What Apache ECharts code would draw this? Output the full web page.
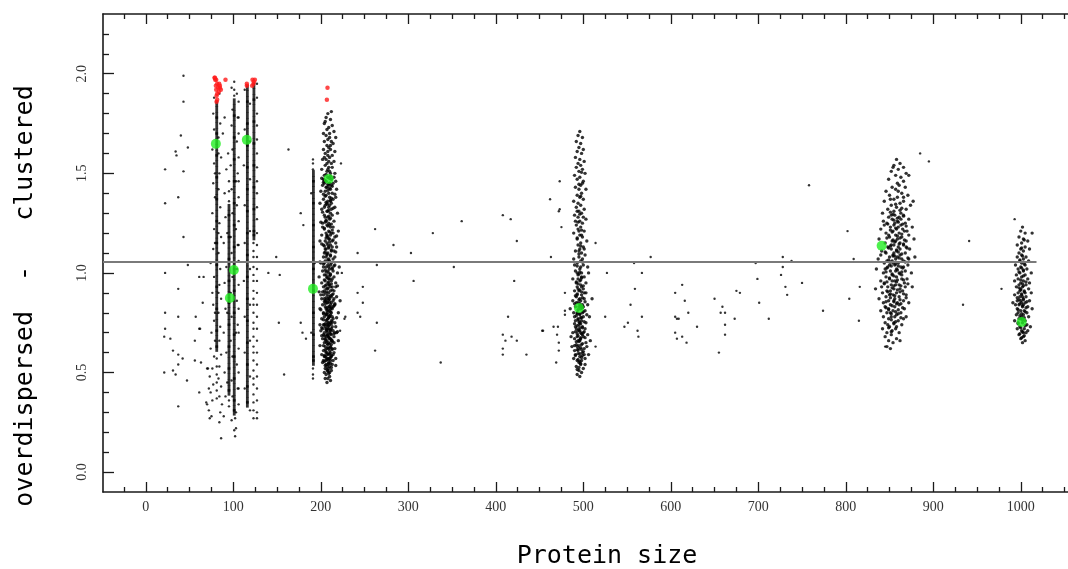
<!DOCTYPE html>
<html>
<head>
<meta charset="utf-8">
<script src="https://cdn.jsdelivr.net/npm/echarts@6/dist/echarts.min.js"></script>
<style>
html,body{margin:0;padding:0;background:#fff;}
#chart{width:1068px;height:569px;}
</style>
</head>
<body>
<div id="chart"></div>
<script>
// ---------- axis ticks ----------
const xTicks = [0,100,200,300,400,500,600,700,800,900,1000];
const xMinorTicks = [-25,25,50,75,125,150,175,225,250,275,325,350,375,425,450,475,525,550,575,625,650,675,725,750,775,825,850,875,925,950,975,1025,1050];
const yTicks = [0,0.5,1,1.5,2];
const yMinorTicks = [0.1,0.2,0.3,0.4,0.6,0.7,0.8,0.9,1.1,1.2,1.3,1.4,1.6,1.7,1.8,1.9,2.1,2.2];
const xName = "Protein size";
const yName = "overdispersed  -   clustered";

// ---------- reference line ----------
const refLineY = 1.055;
const refLineX = [-49, 1018];

// ---------- sparse points ----------
const outliers = [
[43,1.99],[43,1.86],[40,1.69],[34,1.61],[35,1.59],[48,1.63],[22,1.52],[43,1.51],[37,1.38],[22,1.35],[43,1.18],[48,1.04],[22,1.00],[61,0.98],[37,0.92],[65,0.85],[22,0.80],[37,0.78],[61,0.72],[22,0.72],[21,0.68],[28,0.67],[56,0.66],[31,0.61],[37,0.59],[42,0.57],[56,0.56],[37,0.54],[47,0.46],[31,0.51],[34,0.49],[21,0.50],[61,0.40],[37,0.33],
[63,0.55],[70,0.52],[71,0.52],[72,0.42],[69,0.35],[70,0.34],[73,0.27],[86,0.17],[66,0.98],[57,0.78],[62,0.72],
[140,1.00],[153,0.99],[163,1.62],[149,1.08],[158,0.49],[152,0.75],[177,1.30],[180,1.24],[177,0.75],[179,0.70],[183,0.67],
[228,0.78],[223,1.55],[262,1.22],[242,1.10],[283,1.14],[303,1.10],[328,1.20],[361,1.26],[408,1.29],[417,1.27],[424,1.16],[462,1.37],[473,1.46],[472,1.31],[475,1.23],[463,1.08],[264,1.04],[352,1.03],[224,1.00],[306,0.96],[421,0.96],[248,0.93],[242,0.90],[248,0.85],[242,0.80],[245,0.78],[227,0.77],[264,0.75],[222,0.71],[414,0.78],[408,0.69],[411,0.66],[418,0.68],[424,0.66],[408,0.62],[408,0.59],[435,0.59],[262,0.61],[337,0.55],[453,0.71],[466,0.73],[471,0.73],[470,0.69],[472,0.65],[472,0.61],[469,0.55],[479,0.90],[479,0.81],[479,0.79],[473,1.32],[454,0.71],
[514,1.15],[527,1.00],[525,0.78],[514,0.63],[558,1.05],[577,1.08],[567,1.00],[559,0.92],[554,0.84],[567,0.78],[551,0.75],[547,0.73],[562,0.71],[563,0.68],[605,0.90],[613,0.94],[616,0.86],[620,0.80],[605,0.78],[607,0.77],[609,0.77],[630,0.73],[605,0.70],[607,0.67],[613,0.68],[618,0.65],[650,0.87],[659,0.83],[657,0.80],[662,0.80],[662,0.74],[662,0.69],[655,0.60],[673,0.77],[675,0.91],[679,0.90],[697,1.05],[699,0.97],[701,0.85],[712,0.77],[726,0.99],[728,1.08],[728,1.03],[731,0.93],[733,0.89],[738,1.06],[750,0.95],[758,1.44],[774,0.81],[802,1.21],[804,0.87],
[809,1.07],[816,0.93],[815,0.76],[845,0.63],[885,1.60],[895,1.56],[941,1.16],[934,0.84],[978,0.92],[993,1.27]
];

// ---------- points scattered around the dense columns (x 72-130, 190) ----------
const nearStreak = [
[78,1.88],[77,1.80],[78,1.72],[76,1.62],[78,1.55],[77,1.45],[79,1.38],[76,1.30],[78,1.22],[77,1.12],[74,1.05],[78,0.98],[76,0.90],[77,0.84],[78,0.76],[75,0.70],[79,0.66],[74,0.62],[78,0.58],[76,0.52],[73,0.48],[77,0.44],[74,0.40],[76,0.36],[72,0.31],[75,0.28],[79,1.50],[79,1.15],[79,0.80],
[81,0.57],[81,0.53],[81,0.49],[81,0.45],[81,0.41],[81,0.37],
[84,1.90],[85,1.75],[83,1.68],[86,1.58],[84,1.50],[83,1.42],[85,1.33],[84,1.25],[86,1.18],[83,1.10],[85,1.02],[84,0.94],[86,0.87],[83,0.80],[85,0.73],[84,0.66],[86,0.59],[84,0.53],[83,0.47],[86,0.43],[84,0.38],[87,0.34],[85,0.30],[84,0.25],[83,1.60],[83,1.20],[83,0.90],
[90,1.78],[88,1.70],[92,1.52],[90,1.40],[91,1.28],[89,1.15],[92,1.03],[90,0.95],[91,0.82],[89,0.70],[92,0.60],[90,0.50],[91,0.38],[89,0.28],
[95,1.36],[95,1.41],[95,1.46],[95,0.36],[95,0.33],[94,1.60],[93,1.20],[93,0.80],[93,0.45],
[101,1.96],[101,1.92],[101,1.89],[102,0.27],[101,0.21],[102,0.18],
[104,1.90],[106,1.86],[99,1.82],[105,1.78],[98,1.74],[106,1.70],[104,1.66],[99,1.62],[106,1.58],[97,1.54],[105,1.50],[103,1.46],[98,1.42],[106,1.38],[104,1.34],[99,1.30],[106,1.26],[103,1.22],[97,1.18],[105,1.14],[98,1.10],[106,1.06],[104,1.02],[99,0.98],[106,0.94],[97,0.90],[104,0.86],[106,0.82],[98,0.78],[105,0.74],[103,0.70],[97,0.66],[106,0.62],[99,0.58],[104,0.54],[106,0.50],[98,0.46],[105,0.42],[99,0.38],[106,0.34],[103,0.30],[98,0.26],[103,0.22],[98,1.93],[106,1.78],[106,1.46],[106,1.14],[106,0.70],[106,0.42],
[113,1.92],[119,1.85],[127,1.80],[113,1.72],[119,1.66],[127,1.60],[112,1.54],[119,1.47],[127,1.40],[113,1.34],[127,1.27],[119,1.21],[113,1.15],[127,1.08],[119,1.02],[112,0.96],[127,0.90],[119,0.84],[113,0.78],[127,0.72],[119,0.66],[113,0.60],[127,0.54],[119,0.48],[113,0.42],[127,0.36],[119,0.31],[127,0.27],
[127,1.95],[127,1.88],[127,1.74],[127,1.67],[127,1.53],[127,1.46],[127,1.33],[127,1.20],[127,1.14],[127,1.02],[127,0.96],[127,0.84],[127,0.78],[127,0.66],[127,0.60],[127,0.48],[127,0.42],[127,0.30],
[123,1.15],[123,1.11],[123,1.08],[123,1.03],[123,0.99],[123,0.96],[123,0.91],[123,0.87],[123,0.84],[123,0.80],[123,0.75],[123,0.72],[123,0.68],[123,0.63],[123,0.60],[123,0.56],[123,0.51],[123,0.47],[123,0.44],[123,0.39],[123,0.35],[123,0.31],[123,0.27],
[191,1.57],[191,1.55],[191,1.52],[191,0.52],[191,0.49],[191,0.47],[189,1.40],[193,1.05],[189,0.70]
];

// ---------- dense vertical columns (many proteins of identical size) ----------
const streakX = [81, 95, 101, 116, 123.5, 191.5];
const streakY = [
[1.85,1.82,1.79,1.77,1.74,1.71,1.69,1.66,1.63,1.60,1.58,1.55,1.52,1.49,1.47,1.44,1.41,1.38,1.36,1.33,1.30,1.27,1.25,1.22,1.19,1.16,1.14,1.11,1.08,1.05,1.03,1.00,0.97,0.94,0.92,0.89,0.86,0.83,0.81,0.78,0.75,0.72,0.70,0.67,0.64,0.62],
[1.33,1.30,1.28,1.25,1.22,1.19,1.17,1.14,1.11,1.08,1.06,1.03,1.00,0.97,0.95,0.92,0.89,0.86,0.84,0.81,0.78,0.75,0.73,0.70,0.67,0.64,0.62,0.59,0.56,0.53,0.51,0.48,0.45,0.42,0.40],
[1.86,1.83,1.80,1.78,1.75,1.72,1.69,1.67,1.64,1.61,1.58,1.56,1.53,1.50,1.47,1.45,1.42,1.39,1.36,1.34,1.31,1.28,1.25,1.23,1.20,1.17,1.14,1.12,1.09,1.06,1.03,1.01,0.98,0.95,0.92,0.90,0.87,0.84,0.81,0.79,0.76,0.73,0.70,0.68,0.65,0.62,0.59,0.57,0.54,0.51,0.48,0.46,0.43,0.40,0.37,0.35,0.32,0.30],
[1.93,1.90,1.87,1.85,1.82,1.79,1.76,1.74,1.71,1.68,1.65,1.63,1.60,1.57,1.54,1.52,1.49,1.46,1.43,1.41,1.38,1.35,1.32,1.30,1.27,1.24,1.21,1.19,1.16,1.13,1.10,1.08,1.05,1.02,0.99,0.97,0.94,0.91,0.88,0.86,0.83,0.80,0.77,0.75,0.72,0.69,0.66,0.64,0.61,0.58,0.55,0.53,0.50,0.47,0.44,0.42,0.39,0.36,0.34],
[1.94,1.91,1.88,1.86,1.83,1.80,1.77,1.75,1.72,1.69,1.66,1.64,1.61,1.58,1.55,1.53,1.50,1.47,1.44,1.42,1.39,1.36,1.33,1.31,1.28,1.25,1.22,1.20,1.18],
[1.50,1.47,1.45,1.42,1.39,1.36,1.34,1.31,1.28,1.25,1.23,1.20,1.17,1.14,1.12,1.09,1.06,1.03,1.01,0.98,0.95,0.92,0.90,0.87,0.84,0.81,0.79,0.76,0.73,0.70,0.68,0.65,0.62,0.59,0.57,0.55]
];

// ---------- dense clusters ----------
const cluster208 = [
[208,1.80],[206,1.78],[211,1.77],[204,1.75],[213,1.74],[209,1.73],[207,1.72],[215,1.71],[203,1.70],[210,1.70],[212,1.81],[205,1.76],
[206,1.69],[210,1.68],[208,1.67],[212,1.66],[204,1.66],[214,1.65],[207,1.64],[209,1.63],[211,1.62],[203,1.62],[216,1.61],[205,1.60],[208,1.59],[213,1.59],[210,1.58],[206,1.57],[202,1.57],[209,1.56],[212,1.55],[207,1.55],[215,1.56],[204,1.58],[211,1.64],[208,1.61],[217,1.68],
[205,1.54],[209,1.53],[213,1.53],[201,1.52],[207,1.51],[211,1.50],[216,1.50],[204,1.49],[208,1.48],[212,1.47],[206,1.46],[210,1.45],[214,1.45],[202,1.44],[207,1.43],[211,1.42],[218,1.42],[205,1.41],[209,1.40],[213,1.40],[203,1.47],[215,1.48],[208,1.52],[206,1.43],[212,1.44],[200,1.41],[217,1.46],[210,1.51],[204,1.45],[209,1.44],
[206,1.39],[210,1.38],[214,1.37],[203,1.37],[208,1.36],[212,1.35],[205,1.34],[209,1.33],[216,1.33],[201,1.32],[207,1.31],[211,1.30],[213,1.29],[204,1.29],[208,1.28],[210,1.27],[206,1.26],[215,1.26],[202,1.25],[209,1.25],[219,1.30],[211,1.36],[207,1.35],[205,1.28],[212,1.32],[199,1.35],[217,1.38],[208,1.31],[210,1.34],[204,1.33],
[207,1.24],[211,1.23],[214,1.23],[204,1.22],[209,1.21],[212,1.20],[206,1.20],[201,1.19],[208,1.18],[216,1.18],[210,1.17],[205,1.16],[213,1.16],[207,1.15],[211,1.14],[203,1.14],[209,1.13],[218,1.13],[206,1.12],[212,1.11],[208,1.10],[204,1.10],[215,1.11],[210,1.24],[220,1.21],[199,1.16],[207,1.19],[213,1.13],[209,1.17],[205,1.12],[211,1.19],[202,1.23],[217,1.15],[208,1.14],[214,1.20],
[207,1.09],[211,1.09],[203,1.08],[209,1.07],[214,1.07],[205,1.06],[212,1.05],[200,1.05],[208,1.04],[216,1.04],[206,1.03],[210,1.02],[213,1.02],[202,1.01],[209,1.00],[219,1.00],[204,0.99],[211,0.99],[207,0.98],[215,0.98],[209,0.97],[212,0.96],[205,0.96],[201,0.95],[217,0.95],[208,0.95],[210,1.06],[206,1.08],[214,1.01],[203,1.03],[211,1.04],[208,1.01],[221,1.03],[204,1.05],[213,0.97],[206,0.99],[209,1.03],[198,0.98],[216,1.08],[210,0.97],
[206,0.94],[210,0.94],[213,0.93],[203,0.93],[208,0.92],[211,0.91],[215,0.91],[205,0.90],[209,0.90],[200,0.89],[207,0.89],[212,0.88],[218,0.88],[204,0.87],[210,0.87],[206,0.86],[214,0.86],[208,0.85],[211,0.84],[202,0.84],[216,0.84],[209,0.83],[205,0.83],[213,0.82],[207,0.81],[210,0.81],[203,0.80],[220,0.80],[212,0.80],[208,0.80],[206,0.92],[211,0.93],[209,0.88],[204,0.91],[215,0.87],[207,0.85],[213,0.89],[201,0.87],[210,0.83],[206,0.82],[217,0.93],[208,0.87],[212,0.85],[199,0.82],[214,0.83],[205,0.86],[209,0.94],[222,0.86],[203,0.89],[211,0.82],
[207,0.79],[211,0.79],[204,0.78],[209,0.78],[214,0.77],[201,0.77],[206,0.76],[212,0.76],[208,0.75],[216,0.75],[203,0.74],[210,0.74],[205,0.73],[213,0.73],[209,0.72],[207,0.71],[200,0.71],[211,0.71],[218,0.70],[204,0.70],[208,0.69],[212,0.69],[206,0.68],[215,0.68],[210,0.67],[202,0.67],[207,0.66],[213,0.66],[209,0.65],[204,0.65],[220,0.66],[211,0.75],[206,0.72],[214,0.71],[208,0.77],[203,0.69],[210,0.70],[217,0.73],[205,0.67],[212,0.72],[209,0.68],[199,0.74],[207,0.74],[213,0.78],[215,0.65],[208,0.72],[210,0.78],[206,0.79],[204,0.74],[211,0.67],[216,0.70],[202,0.72],[209,0.75],[212,0.66],[207,0.69],
[208,0.64],[211,0.63],[205,0.63],[213,0.62],[207,0.62],[203,0.61],[210,0.61],[215,0.60],[206,0.60],[209,0.59],[212,0.58],[204,0.58],[208,0.57],[217,0.57],[206,0.56],[211,0.56],[202,0.55],[209,0.55],[213,0.54],[207,0.53],[210,0.53],[205,0.52],[212,0.51],[208,0.51],[204,0.50],[214,0.56],[209,0.62],[207,0.59],[211,0.60],[201,0.59],[210,0.57],[206,0.54],[216,0.62],[208,0.54],[203,0.56],[212,0.64],[209,0.52],[205,0.58],[210,0.50],[214,0.59],
[206,0.49],[210,0.48],[208,0.47],[207,0.45],[205,0.47],[211,0.46],
[206,1.495],[210,1.475],[203,1.455],[213,1.435],[208,1.415],[205,1.385],[211,1.365],[207,1.345],[214,1.325],[202,1.305],[209,1.285],[206,1.265],[212,1.245],[204,1.225],[210,1.205],[207,1.185],[214,1.165],[201,1.145],[209,1.125],[205,1.105],[211,1.085],[208,1.065],[203,1.045],[213,1.025],[206,1.005],[210,0.985],[204,0.965],[212,0.945],[208,0.925],[202,0.905],[214,0.895],[206,0.875],[210,0.855],[205,0.845],[212,0.825],[208,0.815],[203,0.795],[210,0.785],[207,0.765],[213,0.755],[205,0.745],[209,0.735],[201,0.725],[211,0.715],[207,0.705],[215,0.695],[204,0.685],[209,0.675],[212,0.665],[206,0.655],[210,0.645],[203,0.635],[208,0.625],[213,0.615],[206,0.605],[210,0.595],[204,0.585],[211,0.575],[207,0.565],[209,0.545],[205,0.535],[212,0.525],[208,0.505],
[211,1.485],[204,1.465],[208,1.445],[210,1.425],[203,1.395],[212,1.375],[206,1.355],[209,1.315],[211,1.275],[205,1.255],[208,1.235],[213,1.215],[206,1.175],[210,1.155],[204,1.135],[212,1.115],[207,1.095],[209,1.055],[215,1.035],[205,1.015],[211,0.995],[207,0.975],[209,0.955],[205,0.935],[213,0.915],[207,0.905],[211,0.885],[209,0.865],[204,0.855],[215,0.835],[207,0.825],[211,0.805],[206,0.795],[209,0.775],[203,0.765],[212,0.745],[208,0.735],[206,0.715],[211,0.695],[208,0.685],[205,0.665],[213,0.655],[207,0.645],[211,0.625],[205,0.615],[208,0.595],[212,0.585],[206,0.575],[209,0.565],[204,0.555],[211,0.545],[207,0.515],[209,0.495],
[216,1.395],[200,1.255],[218,1.185],[199,1.055],[219,0.935],[200,0.815],[218,0.775],[199,0.635],[217,0.535],[201,1.475],[217,1.105],[198,0.905],[219,0.705],[216,0.845],[201,0.685]
];

const cluster495 = [
[496,1.71],[494,1.69],[499,1.68],[492,1.66],[497,1.65],[495,1.63],[500,1.62],[493,1.61],[498,1.60],[491,1.58],[496,1.57],[501,1.56],[494,1.55],
[497,1.54],[492,1.53],[499,1.52],[495,1.51],[502,1.50],[490,1.49],[496,1.48],[493,1.47],[500,1.46],[497,1.44],[491,1.43],[495,1.42],[503,1.42],[498,1.40],[493,1.39],[496,1.38],[500,1.37],[489,1.36],[494,1.35],[499,1.45],
[497,1.34],[492,1.33],[501,1.32],[495,1.31],[498,1.30],[490,1.29],[494,1.28],[503,1.27],[496,1.26],[499,1.25],[492,1.24],[497,1.23],[494,1.22],[501,1.21],[489,1.20],[496,1.19],[499,1.18],[493,1.17],[504,1.16],[497,1.15],[491,1.26],[495,1.21],[500,1.28],[493,1.31],[498,1.19],
[494,1.14],[500,1.13],[496,1.12],[491,1.11],[498,1.10],[502,1.09],[495,1.08],[489,1.07],[497,1.06],[493,1.05],[500,1.04],[505,1.03],[496,1.02],[491,1.01],[498,1.00],[494,0.99],[501,0.98],[488,0.97],[496,0.96],[503,0.95],[492,0.95],[499,1.07],[495,1.11],[493,1.00],[497,1.03],[490,1.04],[501,1.12],[494,0.97],[506,1.00],[498,0.98],
[497,0.94],[493,0.93],[500,0.92],[490,0.91],[495,0.91],[503,0.90],[498,0.89],[492,0.88],[496,0.87],[501,0.87],[488,0.86],[494,0.85],[499,0.84],[505,0.84],[491,0.83],[497,0.82],[502,0.81],[493,0.80],[489,0.80],[496,0.79],[500,0.78],[507,0.78],[494,0.77],[498,0.76],[491,0.76],[503,0.75],[496,0.75],[485,0.82],[499,0.80],[495,0.83],[492,0.85],[497,0.86],[501,0.90],[494,0.92],[510,0.87],[490,0.78],[498,0.93],[493,0.89],[500,0.83],[504,0.79],
[495,0.74],[491,0.73],[499,0.73],[502,0.72],[494,0.71],[488,0.70],[497,0.70],[505,0.69],[493,0.68],[500,0.68],[490,0.67],[496,0.66],[503,0.65],[492,0.64],[498,0.64],[487,0.63],[495,0.62],[501,0.62],[494,0.61],[499,0.60],[491,0.59],[506,0.59],[496,0.58],[489,0.57],[502,0.57],[493,0.56],[498,0.56],[495,0.55],[500,0.70],[492,0.72],[497,0.67],[504,0.63],[490,0.61],[494,0.66],[499,0.69],[508,0.66],[486,0.68],[496,0.71],[501,0.59],[493,0.63],
[497,0.54],[492,0.53],[500,0.52],[495,0.51],[498,0.50],[493,0.49],[496,0.48],[502,0.54],
[495,0.995],[498,0.975],[492,0.955],[500,0.935],[496,0.915],[493,0.895],[499,0.875],[495,0.865],[502,0.855],[490,0.845],[497,0.835],[494,0.815],[500,0.805],[496,0.795],[492,0.785],[498,0.775],[494,0.765],[501,0.755],[497,0.745],[493,0.735],[499,0.725],[495,0.715],[491,0.705],[498,0.695],[494,0.685],[502,0.675],[496,0.665],[492,0.655],[499,0.645],[495,0.635],[497,0.625],[493,0.615],[500,0.605],[496,0.595],[491,0.585],[498,0.575],[494,0.565],[497,0.545],[495,0.525],[493,0.515],
[497,0.965],[494,0.945],[498,0.905],[491,0.885],[496,0.845],[499,0.825],[493,0.795],[497,0.775],[495,0.755],[490,0.745],[496,0.725],[501,0.705],[493,0.695],[497,0.675],[495,0.655],[490,0.635],[498,0.615],[494,0.595],[499,0.585],[496,0.555],
[496,1.295],[494,1.255],[498,1.215],[493,1.175],[497,1.135],[495,1.095],[499,1.055],[493,1.035],[496,1.005],[497,1.385],[495,1.445],[498,1.505]
];

const cluster860 = [
[858,1.57],[862,1.55],[855,1.54],[866,1.53],[860,1.52],[852,1.51],[869,1.50],[857,1.49],[863,1.48],[849,1.47],[866,1.46],[859,1.45],[872,1.49],[854,1.53],
[861,1.44],[853,1.43],[868,1.43],[857,1.42],[846,1.41],[864,1.40],[850,1.39],[871,1.39],[859,1.38],[855,1.37],[866,1.36],[844,1.36],[862,1.35],[852,1.34],[874,1.34],[858,1.33],[848,1.32],[869,1.32],[855,1.31],[863,1.30],[842,1.30],[860,1.41],[866,1.38],[851,1.37],[877,1.36],
[856,1.29],[866,1.29],[849,1.28],[861,1.28],[872,1.27],[853,1.27],[843,1.26],[859,1.26],[868,1.25],[847,1.25],[855,1.24],[863,1.24],[876,1.23],[851,1.23],[858,1.22],[840,1.22],[867,1.21],[854,1.21],[861,1.20],[846,1.20],[872,1.19],[857,1.19],[850,1.18],[864,1.18],[838,1.17],[859,1.17],[869,1.16],[853,1.16],[845,1.15],[862,1.15],[878,1.17],[856,1.25],[865,1.22],[849,1.19],[860,1.23],[852,1.29],[870,1.21],[857,1.16],[844,1.24],[863,1.27],
[855,1.14],[866,1.14],[848,1.13],[860,1.13],[873,1.12],[852,1.12],[841,1.11],[858,1.11],[868,1.10],[846,1.10],[854,1.09],[862,1.09],[879,1.08],[850,1.08],[857,1.07],[837,1.07],[866,1.06],[853,1.06],[860,1.05],[844,1.05],[871,1.04],[856,1.04],[848,1.03],[863,1.03],[835,1.02],[858,1.02],[868,1.01],[851,1.01],[843,1.00],[861,1.00],[875,1.00],[855,1.10],[864,1.07],[847,1.06],[859,1.08],[850,1.04],[869,1.13],[840,1.09],[857,1.01],[866,1.03],[852,1.14],[862,1.12],[845,1.02],[872,1.07],[854,1.05],
[853,0.99],[864,0.99],[846,0.98],[858,0.98],[870,0.97],[850,0.97],[840,0.96],[856,0.96],[867,0.95],[844,0.95],[852,0.94],[861,0.94],[876,0.93],[848,0.93],[855,0.92],[834,0.92],[865,0.91],[851,0.91],[858,0.90],[842,0.90],[869,0.89],[854,0.89],[846,0.88],[861,0.88],[838,0.87],[856,0.87],[866,0.86],[849,0.86],[859,0.85],[843,0.85],[872,0.85],[853,0.96],[862,0.92],[847,0.91],[857,0.94],[850,0.89],[868,0.93],[841,0.93],[855,0.86],[864,0.97],
[851,0.84],[861,0.84],[845,0.83],[856,0.83],[867,0.82],[849,0.82],[840,0.81],[854,0.81],[863,0.80],[847,0.80],[858,0.79],[843,0.78],[852,0.78],[869,0.78],[849,0.77],[860,0.76],[845,0.75],[855,0.75],[864,0.74],[850,0.73],[842,0.72],[857,0.72],[853,0.71],[847,0.70],[861,0.70],[856,0.78],[848,0.74],[866,0.77],[851,0.80],[858,0.73],
[852,0.69],[845,0.68],[858,0.67],[849,0.66],[854,0.65],[847,0.63],[862,0.66],[851,0.62],
[857,1.345],[862,1.315],[851,1.305],[866,1.285],[855,1.265],[860,1.255],[848,1.245],[869,1.235],[857,1.225],[853,1.205],[864,1.195],[859,1.185],[847,1.175],[867,1.165],[856,1.155],[861,1.145],[851,1.135],[870,1.125],[858,1.115],[845,1.105],[864,1.095],[854,1.085],[861,1.075],[849,1.065],[868,1.055],[857,1.045],[852,1.035],[865,1.025],[859,1.015],[846,1.005],[862,0.995],[855,0.985],[850,0.975],[866,0.965],[858,0.955],[844,0.945],[863,0.935],[853,0.925],[859,0.915],[848,0.905],[866,0.895],[856,0.885],[851,0.875],[862,0.865],[846,0.855],[858,0.845],[853,0.835],[865,0.825],[849,0.815],[857,0.805],[860,0.795],[852,0.765],[855,0.745],[849,0.725],
[864,1.325],[854,1.295],[859,1.275],[865,1.245],[851,1.215],[862,1.175],[854,1.165],[866,1.145],[849,1.125],[860,1.105],[856,1.085],[871,1.075],[851,1.055],[860,1.035],[847,1.025],[864,1.005],[853,0.995],[859,0.965],[847,0.955],[871,0.945],[855,0.935],[862,0.905],[851,0.895],[869,0.875],[855,0.855],[863,0.845],[846,0.825],[860,0.815],[852,0.795],[863,0.775],[857,0.755],[852,0.705]
];

const cluster1003 = [
[1002,1.23],[1000,1.21],[1005,1.20],[1013,1.20],[998,1.18],[1003,1.17],[1008,1.16],[1001,1.15],[996,1.14],[1005,1.13],[1000,1.12],[1010,1.12],[1003,1.11],[998,1.10],
[1001,1.09],[1006,1.08],[996,1.08],[1003,1.07],[999,1.06],[1009,1.06],[1001,1.05],[994,1.04],[1005,1.04],[1000,1.03],[1007,1.02],[997,1.02],[1003,1.01],[1012,1.00],[999,1.00],[1005,0.99],[995,0.99],[1001,0.98],[1008,0.97],[997,0.97],[1003,0.96],[1000,0.95],[1010,0.95],[993,0.96],
[1006,0.94],[998,0.94],[1002,0.93],[995,0.93],[1009,0.92],[1000,0.92],[1004,0.91],[997,0.90],[1012,0.90],[1001,0.89],[993,0.89],[1006,0.88],[999,0.88],[1003,0.87],[996,0.86],[1010,0.86],[1001,0.85],[1005,0.85],[994,0.84],[998,0.84],[1008,0.83],[1002,0.83],[996,0.82],[1004,0.81],[1000,0.81],[1013,0.82],[991,0.85],[1007,0.80],[997,0.80],[1002,0.88],[999,0.91],[1005,0.90],[1003,0.84],[1000,0.86],
[1003,0.79],[995,0.79],[1001,0.78],[1009,0.78],[998,0.77],[1005,0.76],[993,0.76],[1002,0.75],[1007,0.74],[999,0.73],[1004,0.72],[996,0.72],[1011,0.73],[1001,0.71],[1006,0.70],[998,0.69],[1003,0.68],[1000,0.67],[1005,0.66],[1002,0.65],[997,0.75],[1003,0.70],[1008,0.71],[1000,0.77],
[1002,1.085],[999,1.065],[1004,1.045],[1001,1.025],[998,1.005],[1003,0.985],[1000,0.965],[1006,0.955],[1002,0.945],[998,0.925],[1004,0.905],[1001,0.895],[996,0.875],[1003,0.865],[1007,0.855],[999,0.845],[1002,0.835],[997,0.815],[1005,0.805],[1001,0.795],[999,0.785],[1004,0.775],[1002,0.765],[997,0.745],[1005,0.735],[1000,0.725],[1002,0.705],[999,0.695],[1004,0.685],[1001,0.675],[1003,0.935],[1000,0.915],[1006,0.825],[998,0.865],[1003,1.015],[1001,1.125],[1004,1.165]
];

// ---------- highlighted points ----------
const redPts = [
[78.9,1.98],[80.4,1.97],[81.5,1.95],[80,1.94],[82.6,1.93],[80.4,1.92],[83.4,1.91],[81.5,1.90],[84.6,1.93],[85.7,1.92],[80.8,1.89],[81.5,1.87],[80.8,1.86],[79.3,1.97],[83.8,1.95],[78.5,1.98],[84.6,1.94],
[91,1.97],[115.4,1.95],[115.4,1.94],[121.9,1.97],[123,1.95],[121.5,1.94],[123.4,1.96],[124.6,1.97],
[207.6,1.93],[206.9,1.87]
];
const greenPts = [
[80,1.648],[96,0.874],[100.6,1.015],[115.4,1.668],[191,0.92],[209,1.472],[495,0.824],[841,1.136],[1001,0.754]
];

// ---------- build chart ----------
const streakData = [];
streakX.forEach((x, i) => streakY[i].forEach(y => streakData.push([x, y])));
const clusterData = [].concat(cluster208, cluster495, cluster860, cluster1003);

const chart = echarts.init(document.getElementById('chart'), null, {renderer: 'canvas'});
const axisColor = '#1a1a1a';
const labelFont = {fontFamily: '"Liberation Serif", "DejaVu Serif", serif', fontSize: 14, color: '#333'};
const X_MIN = -49, X_MAX = 1054, Y_MIN = -0.1, Y_MAX = 2.3;

function xAx(pos, ticks, len, showLine, showLabel) {
  return {
    type: 'value', position: pos, min: X_MIN, max: X_MAX,
    axisLine: {show: showLine, onZero: false, lineStyle: {color: axisColor, width: 1.6}},
    axisTick: {show: true, inside: true, length: len, customValues: ticks, lineStyle: {color: axisColor, width: 1.3}},
    axisLabel: showLabel ? Object.assign({show: true, customValues: ticks, margin: 8,
      formatter: v => String(v)}, labelFont) : {show: false},
    splitLine: {show: false}
  };
}
function yAx(ticks, len, showLine, showLabel) {
  return {
    type: 'value', position: 'left', min: Y_MIN, max: Y_MAX,
    axisLine: {show: showLine, onZero: false, lineStyle: {color: axisColor, width: 1.6}},
    axisTick: {show: true, inside: true, length: len, customValues: ticks, lineStyle: {color: axisColor, width: 1.3}},
    axisLabel: showLabel ? Object.assign({show: true, customValues: ticks, rotate: 90, margin: 14,
      formatter: v => Number(v).toFixed(1)}, labelFont) : {show: false},
    splitLine: {show: false}
  };
}

chart.setOption({
  animation: false,
  backgroundColor: '#ffffff',
  grid: {left: 103, right: 0, top: 14, bottom: 77, containLabel: false},
  xAxis: [
    xAx('bottom', xTicks, 10, true, true),
    xAx('bottom', xMinorTicks, 5, false, false),
    xAx('top', xTicks, 10, true, false),
    xAx('top', xMinorTicks, 5, false, false)
  ],
  yAxis: [
    yAx(yTicks, 11, true, true),
    yAx(yMinorTicks, 6, false, false)
  ],
  graphic: [
    {type: 'text', x: 25, y: 296, rotation: Math.PI / 2,
     style: {text: yName, font: '25px "DejaVu Sans Mono", monospace', fill: '#000', textAlign: 'center', textVerticalAlign: 'middle'}},
    {type: 'text', x: 607, y: 556,
     style: {text: xName, font: '25px "DejaVu Sans Mono", monospace', fill: '#000', textAlign: 'center', textVerticalAlign: 'middle'}}
  ],
  series: [
    {type: 'scatter', name: 'clusters', data: clusterData, symbol: 'circle', symbolSize: 3.4,
     itemStyle: {color: '#000'}, silent: true, z: 2},
    {type: 'scatter', name: 'outliers', data: outliers.concat(nearStreak), symbol: 'circle', symbolSize: 2.4,
     itemStyle: {color: '#000'}, silent: true, z: 2},
    {type: 'scatter', name: 'columns', data: streakData, symbol: 'rect', symbolSize: [2.8, 6.5],
     itemStyle: {color: '#000'}, silent: true, z: 2},
    {type: 'line', name: 'mean', data: [[refLineX[0], refLineY], [refLineX[1], refLineY]], symbol: 'none',
     lineStyle: {color: '#7a7a7a', width: 2}, silent: true, z: 3},
    {type: 'scatter', name: 'red', data: redPts, symbol: 'circle', symbolSize: 4.5,
     itemStyle: {color: '#ff1a1a'}, silent: true, z: 4},
    {type: 'scatter', name: 'green', data: greenPts, symbol: 'circle', symbolSize: 10,
     itemStyle: {color: '#22ee22'}, silent: true, z: 5}
  ]
});
</script>
</body>
</html>
